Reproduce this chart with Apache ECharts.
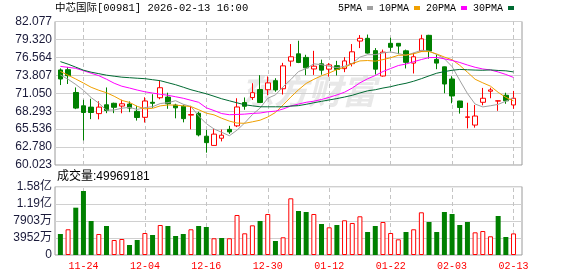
<!DOCTYPE html>
<html><head><meta charset="utf-8">
<script src="https://cdn.jsdelivr.net/npm/echarts@6/dist/echarts.min.js"></script>
<style>html,body{margin:0;padding:0;background:#fff}#c{width:578px;height:276px}</style>
</head><body><div id="c"></div>
<script>
const titleText = '中芯国际[00981] 2026-02-13 16:00';
const volTitle = '成交量:49969181';
const dates = ['11-19','11-20','11-21','11-24','11-25','11-26','11-27','11-28','12-01','12-02','12-03','12-04','12-05','12-08','12-09','12-10','12-11','12-12','12-15','12-16','12-17','12-18','12-19','12-22','12-23','12-24','12-29','12-30','12-31','01-02','01-05','01-06','01-07','01-08','01-09','01-12','01-13','01-14','01-15','01-16','01-19','01-20','01-21','01-22','01-23','01-26','01-27','01-28','01-29','01-30','02-02','02-03','02-04','02-05','02-06','02-09','02-10','02-11','02-12','02-13'];
const xTickLabels = ['11-24','12-04','12-16','12-30','01-12','01-22','02-03','02-13'];
const priceTickLabels = ['60.023','62.780','65.536','68.293','71.050','73.807','76.564','79.320','82.077'];
const volTickLabels = ['0','3952万','7903万','1.19亿','1.58亿'];
const priceMin = 60.023, priceMax = 82.077;
const volMax = 158060000;

const opens  = [74.63,74.67,71.17,69.12,68.92,67.92,69.28,69.51,69.08,69.39, 68.27,67.35,69.66,70.36,70.46,69.23,69.05,67.69,67.97,64.45, 63.03,64.14,65.50,66.04,69.62,70.39,71.62,71.59,72.98,71.74, 75.99,77.11,76.56,74.78,75.57,74.75,75.29,74.83,75.60,79.07, 79.49,77.60,73.70,78.72,78.72,77.57,75.68,77.53,79.95,76.25, 75.11,73.24,69.86,67.35,66.16,69.66,71.36,69.85,70.74,69.25];
const closes = [73.24,73.75,68.77,68.09,68.09,68.92,68.40,68.89,69.43,68.77, 67.32,69.86,69.51,71.90,69.43,68.81,67.15,67.78,64.65,63.46, 64.77,64.60,65.11,68.94,69.05,71.13,69.63,72.64,71.56,75.26, 76.65,75.78,74.95,75.21,74.60,75.41,74.71,76.02,77.42,79.49, 77.22,74.75,77.37,78.11,78.30,75.80,76.65,79.41,77.53,75.68, 72.47,70.63,68.86,67.42,67.55,70.28,71.56,69.89,69.89,70.28];
const lows   = [72.31,72.47,68.61,63.80,67.07,67.04,67.99,67.99,67.97,68.15, 66.85,66.55,68.81,70.13,68.66,67.20,66.58,65.50,64.42,61.92, 63.03,63.65,64.80,65.85,68.51,70.02,69.58,70.74,71.28,70.85, 75.17,75.68,73.83,73.87,73.90,73.60,73.78,74.29,75.17,77.99, 77.14,73.93,73.60,77.49,77.06,74.86,74.09,77.45,76.37,74.75, 71.05,69.51,67.92,65.65,65.76,69.20,70.28,68.35,69.43,68.66];
const highs  = [74.87,75.09,71.94,70.05,70.20,69.82,71.94,69.60,70.05,69.79, 69.12,70.43,70.90,72.95,71.13,69.43,69.28,69.12,68.20,65.42, 65.54,65.47,66.04,70.28,70.40,72.59,73.83,73.63,73.36,75.72, 78.61,79.12,76.96,77.57,76.22,75.68,76.03,76.60,78.61,79.99, 80.07,77.99,77.76,79.58,78.77,77.76,77.26,80.04,80.03,76.99, 75.14,73.67,69.89,69.59,69.25,71.87,71.90,69.93,71.13,71.41];

const ma5  = [73.85,73.20,72.40,71.50,70.39,69.52,68.45,68.48,68.75,68.88, 68.56,68.85,68.98,69.47,69.60,69.90,69.36,69.01,67.56,66.37, 65.56,65.05,64.52,65.38,66.49,67.77,68.77,70.28,70.80,72.04, 73.15,74.38,74.84,75.57,75.44,75.19,74.98,75.19,75.63,76.61, 76.97,76.98,77.25,77.39,77.15,76.87,77.25,77.65,77.54,77.01, 76.35,75.14,73.03,71.01,69.39,68.95,69.13,69.34,69.83,70.38];
const ma10 = [74.40,73.83,73.24,72.62,71.97,71.51,71.13,70.59,69.95,69.64, 69.04,68.65,68.73,69.11,69.24,69.23,69.11,69.00,68.52,67.99, 67.73,67.21,66.77,66.47,66.43,66.66,66.91,67.40,68.09,69.27, 70.46,71.58,72.56,73.19,73.74,74.17,74.68,75.02,75.60,76.02, 76.08,75.98,76.22,76.51,76.88,76.92,77.11,77.45,77.46,77.08, 76.61,76.20,75.34,74.28,73.20,72.65,72.14,71.19,70.42,69.88];
const ma20 = [75.18,75.03,74.88,74.52,74.13,73.75,73.21,72.59,72.13,71.85, 71.54,71.28,71.08,70.90,70.74,70.51,70.28,69.97,69.66,68.81, 68.39,67.93,67.75,67.79,67.84,67.95,68.01,68.20,68.30,68.63, 69.09,69.39,69.66,69.83,70.09,70.42,70.79,71.21,71.85,72.65, 73.27,73.78,74.39,74.85,75.31,75.54,75.90,76.23,76.53,76.55, 76.34,76.09,75.78,75.39,75.04,74.78,74.63,74.32,73.94,73.48];
const ma30 = [75.91,75.52,75.06,74.60,74.29,74.06,73.83,73.67,73.52,73.44, 73.36,73.29,73.13,72.98,72.67,72.36,71.98,71.59,71.28,70.97, 70.59,70.20,69.89,69.58,69.28,69.12,68.97,68.97,68.97,68.96, 69.08,69.15,69.35,69.59,69.81,70.02,70.23,70.47,70.74,71.09, 71.42,71.59,71.85,72.06,72.35,72.58,72.90,73.29,73.72,74.13, 74.38,74.58,74.71,74.66,74.61,74.58,74.64,74.55,74.50,74.33];

const volumes = [48600000,59500000,109500000,148100000,78700000,48600000,67100000,34700000,37000000,23100000, 34700000,50900000,46300000,69400000,67100000,44000000,48600000,59500000,67100000,64800000, 38700000,39300000,38700000,92600000,50200000,68700000,78700000,94900000,32400000,41000000, 131200000,101800000,99500000,94900000,71700000,64100000,69400000,80300000,74100000,89600000, 53200000,67100000,76400000,50900000,36300000,53200000,59500000,98800000,76400000,53200000, 99500000,94900000,69400000,76400000,52500000,55500000,43300000,90300000,41700000,49969181];
const volUp = [0,1,0,0,0,1,0,1,1,0, 0,1,0,1,0,0,0,1,0,0, 1,0,1,1,1,1,0,1,0,1, 1,0,0,1,0,1,0,1,1,1, 0,0,1,1,1,0,1,1,0,0, 0,0,0,0,1,1,1,0,0,1];

const RED = '#ff0000', GREEN = '#008000';
const MONO = "'Liberation Mono','Noto Sans CJK SC',monospace";
const SANS = "'Liberation Sans','Noto Sans CJK SC',sans-serif";
const isTick = (i, v) => xTickLabels.indexOf(v) >= 0;

const chart = echarts.init(document.getElementById('c'), null, {renderer: 'canvas'});
const frameMain = {left: 55, top: 21.5, width: 467, height: 143.5};
const dataMain = {left: 56.56, top: 21.5, width: 460.8, height: 143.5};
const frameVol = {left: 55, top: 186.7, width: 467, height: 68.3};
const dataVol = {left: 56.56, top: 186.7, width: 460.8, height: 68.3};

function vGridSeries(xi, yi) {
  return {
    type: 'line', name: 'vgrid' + xi, xAxisIndex: xi, yAxisIndex: yi, z: 1, silent: true,
    data: dates.map(() => null), symbol: 'none', lineStyle: {opacity: 0},
    markLine: {
      z: 1, silent: true, symbol: ['none', 'none'], label: {show: false}, animation: false,
      emphasis: {disabled: true},
      lineStyle: {type: [4, 3], color: '#c4c4c4', width: 1},
      data: xTickLabels.map(d => ({xAxis: d}))
    }
  };
}

const option = {
  animation: false,
  backgroundColor: '#ffffff',
  title: [
    {text: titleText, left: 55, top: 3, padding: 0, textStyle: {fontSize: 10.5, fontFamily: MONO, fontWeight: 'normal', color: '#000'}},
    {text: volTitle, left: 57, top: 170.5, padding: 0, textStyle: {fontSize: 12, fontFamily: SANS, fontWeight: 'normal', color: '#000'}}
  ],
  legend: {
    data: ['5PMA','10PMA','20PMA','30PMA'], left: 338, top: 3, padding: 0,
    align: 'right', icon: 'rect', itemWidth: 6, itemHeight: 4, itemGap: 6,
    textStyle: {fontFamily: MONO, fontSize: 10, color: '#000'}
  },
  graphic: [{
    type: 'text', left: 240, top: 74, z: -10, silent: true,
    style: {text: '东方财富', fill: '#e8e8e8', font: "italic bold 34px 'Noto Sans CJK SC'"}
  }],
  grid: [
    Object.assign({show: true, borderColor: '#9a9a9a', borderWidth: 1, backgroundColor: 'transparent', containLabel: false, outerBoundsMode: 'none'}, frameMain),
    Object.assign({show: false, containLabel: false, outerBoundsMode: 'none'}, dataMain),
    Object.assign({show: true, borderColor: '#9a9a9a', borderWidth: 1, backgroundColor: 'transparent', containLabel: false, outerBoundsMode: 'none'}, frameVol),
    Object.assign({show: false, containLabel: false, outerBoundsMode: 'none'}, dataVol)
  ],
  xAxis: [
    {gridIndex: 0, type: 'value', min: 0, max: 1, show: false},
    {gridIndex: 1, type: 'category', data: dates, boundaryGap: true,
     axisLine: {show: false}, axisTick: {show: false}, axisLabel: {show: false}, splitLine: {show: false}},
    {gridIndex: 2, type: 'value', min: 0, max: 1, show: false},
    {gridIndex: 3, type: 'category', data: dates, boundaryGap: true,
     axisLine: {show: false}, axisTick: {show: false}, splitLine: {show: false},
     axisLabel: {show: true, interval: isTick, color: RED, fontFamily: MONO, fontSize: 10, margin: 6}}
  ],
  yAxis: [
    {gridIndex: 0, type: 'value', min: 0, max: 8, interval: 1,
     axisLine: {show: false}, axisTick: {show: false},
     axisLabel: {formatter: v => priceTickLabels[v], color: '#1a1a3a', fontFamily: SANS, fontSize: 12, margin: 3},
     splitLine: {show: true, lineStyle: {color: '#d0d0d0', width: 1}}},
    {gridIndex: 1, type: 'value', min: priceMin, max: priceMax, show: false},
    {gridIndex: 2, type: 'value', min: 0, max: 4, interval: 1,
     axisLine: {show: false}, axisTick: {show: false},
     axisLabel: {formatter: v => volTickLabels[v], color: '#1a1a3a', fontFamily: SANS, fontSize: 12, margin: 3},
     splitLine: {show: true, lineStyle: {color: '#d0d0d0', width: 1}}},
    {gridIndex: 3, type: 'value', min: 0, max: volMax, show: false}
  ],
  series: [
    vGridSeries(1, 1),
    vGridSeries(3, 3),
    {type: 'candlestick', name: 'K', xAxisIndex: 1, yAxisIndex: 1, barWidth: 5, z: 2,
     data: dates.map((d, i) => [opens[i], closes[i], lows[i], highs[i]]),
     itemStyle: {color: '#ffffff', color0: GREEN, borderColor: RED, borderColor0: GREEN, borderWidth: 1}},
    {type: 'line', name: '5PMA', xAxisIndex: 1, yAxisIndex: 1, data: ma5, symbol: 'none', z: 3, color: '#a0a0a0', lineStyle: {width: 1, color: '#a0a0a0'}},
    {type: 'line', name: '10PMA', xAxisIndex: 1, yAxisIndex: 1, data: ma10, symbol: 'none', z: 3, color: '#f0a000', lineStyle: {width: 1, color: '#f0a000'}},
    {type: 'line', name: '20PMA', xAxisIndex: 1, yAxisIndex: 1, data: ma20, symbol: 'none', z: 3, color: '#ff00ff', lineStyle: {width: 1, color: '#ff00ff'}},
    {type: 'line', name: '30PMA', xAxisIndex: 1, yAxisIndex: 1, data: ma30, symbol: 'none', z: 3, color: '#006a32', lineStyle: {width: 1, color: '#006a32'}},
    {type: 'bar', name: 'VOL', xAxisIndex: 3, yAxisIndex: 3, barWidth: 5, z: 2,
     data: volumes.map((v, i) => ({value: v, itemStyle: volUp[i] ? {color: '#ffffff', borderColor: RED, borderWidth: 1} : {color: GREEN}}))}
  ]
};
chart.setOption(option);
</script>
</body></html>
